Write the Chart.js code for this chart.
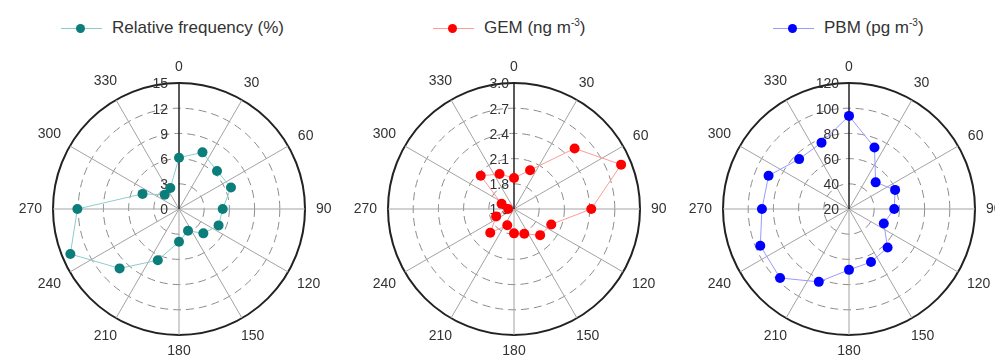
<!DOCTYPE html>
<html>
<head>
    <title>Polar plots</title>
    <script src="https://cdn.jsdelivr.net/npm/chart.js"></script>
    <style>
        body { margin: 0; width: 995px; height: 358px; overflow: hidden; background: #fff; position: relative; font-family: "Liberation Sans", Arial, sans-serif; }
        canvas { position: absolute; top: 59px; }
        .leg { position: absolute; top: 18px; height: 20px; line-height: 20px; font-size: 17px; color: #333; white-space: nowrap; }
        .leg sup { font-size: 10px; vertical-align: 7px; line-height: 0; }
        .key { display: inline-block; position: relative; width: 41px; height: 20px; margin-right: 10px; vertical-align: top; }
        .key::before { content: ""; position: absolute; left: 0; right: 0; top: 10px; height: 1px; background: var(--l); }
        .key::after { content: ""; position: absolute; left: 15px; top: 6px; width: 9px; height: 9px; border-radius: 50%; background: var(--c); }
    </style>
</head>
<body>
    <div class="leg" style="left:61px"><span class="key" style="--c:#0b7d7a;--l:#8ccdcb"></span>Relative frequency (%)</div>
    <div class="leg" style="left:433px"><span class="key" style="--c:#ff0000;--l:#ff9a9a"></span>GEM (ng m<sup>-3</sup>)</div>
    <div class="leg" style="left:773px"><span class="key" style="--c:#0000ff;--l:#9a9aff"></span>PBM (pg m<sup>-3</sup>)</div>

    <canvas id="freqChart" width="330" height="300" style="left:14px"></canvas>
    <canvas id="gemChart" width="330" height="300" style="left:349px"></canvas>
    <canvas id="pbmChart" width="330" height="300" style="left:684px"></canvas>
    <script>
        // wind directions (degrees) of the 16 sectors
        const directions = [0, 22.5, 45, 67.5, 90, 112.5, 135, 157.5, 180, 202.5, 225, 247.5, 270, 292.5, 315, 337.5];
        const angleTicks = [0, 30, 60, 90, 120, 150, 180, 210, 240, 270, 300, 330];

        const freqValues = [6.1, 7.3, 6.4, 6.7, 5.2, 5.1, 4.1, 2.8, 3.9, 6.6, 10.0, 14.0, 12.1, 4.7, 2.4, 2.7];
        const gemValues = [1.87, 2.00, 2.52, 2.88, 2.42, 1.98, 1.94, 1.82, 1.79, 1.71, 1.90, 1.73, 1.57, 1.66, 2.06, 1.95];
        const pbmValues = [93.9, 72.8, 49.9, 59.6, 55.9, 49.9, 63.3, 65.6, 68.3, 82.6, 97.4, 96.2, 89.1, 89.1, 76.0, 77.0];

        const freqTicks = ['0', '3', '6', '9', '12', '15'];
        const gemTicks = ['1.5', '1.8', '2.1', '2.4', '2.7', '3.0'];
        const pbmTicks = ['20', '40', '60', '80', '100', '120'];

        // radar slots every 7.5 deg so both the 22.5 deg data and the 30 deg grid fit
        const STEP = 7.5;
        const slotCount = 360 / STEP;
        const slotLabels = Array.from({ length: slotCount }, (_, i) => String(i * STEP));

        function toSlots(values) {
            const out = new Array(slotCount).fill(null);
            directions.forEach((d, i) => { out[Math.round(d / STEP)] = values[i]; });
            return out;
        }

        const FONT = '14px "Liberation Sans", Arial, sans-serif';

        const polarText = {
            id: 'polarText',
            beforeDatasetsDraw(chart, args, opts) {
                const s = chart.scales.r, ctx = chart.ctx;
                ctx.save();
                ctx.font = FONT;
                ctx.fillStyle = '#333';
                ctx.textAlign = 'right';
                ctx.textBaseline = 'middle';
                s.ticks.forEach((t, i) => {
                    const y = s.yCenter - s.getDistanceFromCenterForValue(t.value);
                    ctx.fillText(opts.labels[i], s.xCenter - opts.gap, y + 1.5);
                });
                ctx.restore();
            },
            afterDraw(chart) {
                const s = chart.scales.r, ctx = chart.ctx;
                ctx.save();
                ctx.font = FONT;
                ctx.fillStyle = '#333';
                ctx.textAlign = 'center';
                ctx.textBaseline = 'middle';
                angleTicks.forEach(a => {
                    const txt = String(a);
                    const w = ctx.measureText(txt).width;
                    const rad = a * Math.PI / 180;
                    const dist = s.drawingArea + 11 + Math.abs(Math.sin(rad)) * w / 2 + Math.abs(Math.cos(rad)) * 5;
                    const p = s.getPointPosition(Math.round(a / STEP), dist);
                    ctx.fillText(txt, p.x, p.y);
                });
                ctx.restore();
            }
        };

        function makeChart(id, label, values, ticks, color, lineColor, gap) {
            const last = ticks.length - 1;
            new Chart(document.getElementById(id), {
                type: 'radar',
                data: {
                    labels: slotLabels,
                    datasets: [{
                        label: label,
                        data: toSlots(values),
                        spanGaps: true,
                        fill: false,
                        borderColor: lineColor,
                        borderWidth: 1,
                        pointRadius: 5,
                        pointBorderWidth: 0,
                        pointBackgroundColor: color,
                        pointBorderColor: color
                    }]
                },
                options: {
                    responsive: false,
                    animation: false,
                    layout: { padding: { top: 24, bottom: 24, left: 39, right: 39 } },
                    plugins: {
                        legend: { display: false },
                        tooltip: { enabled: false },
                        polarText: { labels: ticks, gap: gap }
                    },
                    scales: {
                        r: {
                            min: parseFloat(ticks[0]),
                            max: parseFloat(ticks[last]),
                            afterBuildTicks: s => { s.ticks = ticks.map(t => ({ value: parseFloat(t) })); },
                            ticks: { display: false },
                            pointLabels: { display: false },
                            grid: {
                                circular: true,
                                color: c => c.index === last ? '#222' : '#8c8c8c',
                                lineWidth: c => c.index === last ? 2 : 1
                            },
                            border: { dash: c => c.index === last ? [] : [8, 5] },
                            angleLines: {
                                color: c => c.index === 0 ? '#222' : '#a3a3a3',
                                lineWidth: c => c.index % 4 ? 0 : (c.index === 0 ? 1.5 : 1)
                            }
                        }
                    }
                },
                plugins: [polarText]
            });
        }

        makeChart('freqChart', 'Relative frequency (%)', freqValues, freqTicks, '#0b7d7a', '#8ccdcb', 11);
        makeChart('gemChart', 'GEM (ng m-3)', gemValues, gemTicks, '#ff0000', '#ff9a9a', 5);
        makeChart('pbmChart', 'PBM (pg m-3)', pbmValues, pbmTicks, '#0000ff', '#9a9aff', 10);
    </script>
</body>
</html>
